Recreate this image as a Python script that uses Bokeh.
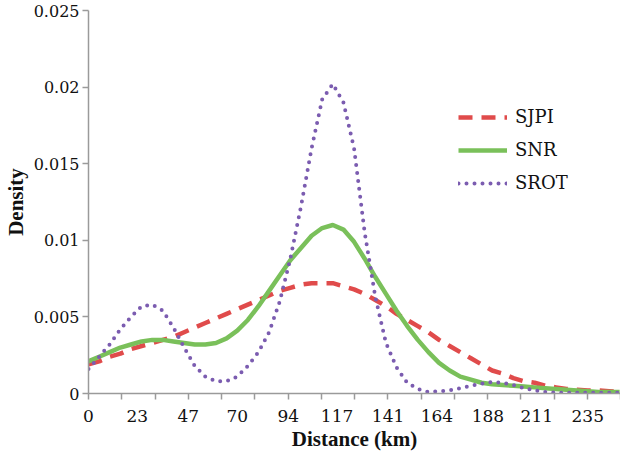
from bokeh.plotting import figure
from bokeh.models import FixedTicker, NumeralTickFormatter, Range1d
from bokeh.embed import file_html
from bokeh.resources import INLINE

# distance (km) sample points
distance_km = [0, 5, 10, 15, 20, 25, 30, 35, 40, 45, 50, 55, 60, 65, 70, 75, 80, 85, 90, 95,
               100, 105, 110, 115, 120, 125, 130, 135, 140, 145, 150, 155, 160, 165, 170, 175,
               180, 185, 190, 195, 200, 205, 210, 215, 220, 225, 230, 235, 240, 245, 250]

sjpi = [0.0019, 0.0021, 0.0024, 0.0026, 0.0029, 0.0031, 0.0033, 0.0035, 0.0037, 0.0040,
        0.0043, 0.0046, 0.0049, 0.0052, 0.0055, 0.0058, 0.0061, 0.0064, 0.0067, 0.0069,
        0.0071, 0.0072, 0.0072, 0.0072, 0.0070, 0.0068, 0.0065, 0.0061, 0.0057, 0.0052,
        0.0048, 0.0044, 0.0040, 0.0035, 0.0031, 0.0027, 0.0023, 0.0019, 0.0015, 0.0013,
        0.0010, 0.0008, 0.0007, 0.0005, 0.0004, 0.0003, 0.00025, 0.0002, 0.0002, 0.00015,
        0.0001]

snr = [0.0021, 0.0024, 0.0027, 0.0030, 0.0032, 0.0034, 0.0035, 0.0035, 0.0034, 0.0033,
       0.0032, 0.0032, 0.0033, 0.0036, 0.0041, 0.0048, 0.0057, 0.0067, 0.0077, 0.0087,
       0.0095, 0.0103, 0.0108, 0.0110, 0.0107, 0.0099, 0.0088, 0.0076, 0.0065, 0.0054,
       0.0044, 0.0035, 0.0027, 0.0020, 0.0015, 0.0011, 0.0009, 0.0007, 0.0006, 0.00055,
       0.0005, 0.00045, 0.0004, 0.00035, 0.0003, 0.00025, 0.0002, 0.00015, 0.0001, 0.0001,
       0.0001]

srot = [0.0016, 0.0024, 0.0032, 0.0042, 0.0050, 0.0057, 0.0058, 0.0054, 0.0043, 0.0030,
        0.0018, 0.0011, 0.0008, 0.0008, 0.0011, 0.0018, 0.0027, 0.0040, 0.0060, 0.0088,
        0.0122, 0.0160, 0.0192, 0.0202, 0.0190, 0.0160, 0.0105, 0.0063, 0.0033, 0.0017,
        0.0007, 0.0003, 0.0001, 0.00015, 0.0002, 0.00035, 0.0005, 0.00065, 0.00075, 0.0007,
        0.00055, 0.00035, 0.0002, 0.0001, 0.00005, 0.00005, 0.00005, 0.00005, 0.00005, 0.00005,
        0.00005]

x_tick_labels = [0, 23, 47, 70, 94, 117, 141, 164, 188, 211, 235]
x_tick_marks = [0, 15.65, 31.3, 46.95, 62.6, 78.25, 93.9, 109.55, 125.2, 140.85, 156.5,
                172.15, 187.8, 203.45, 219.1, 234.75, 250.4]
y_ticks = [0, 0.005, 0.01, 0.015, 0.02, 0.025]

FONT = "DejaVu Serif"
BOLD_FONT = "Liberation Serif"
AXIS_GREY = "#9a9a9a"

p = figure(width=620, height=453, output_backend="svg", toolbar_location=None,
           x_range=Range1d(0, 250.4), y_range=Range1d(0, 0.025),
           min_border_left=83, min_border_right=0, min_border_top=10, min_border_bottom=56)
p.outline_line_color = None
p.xgrid.visible = False
p.ygrid.visible = False
p.background_fill_color = "white"

p.line(distance_km, sjpi, line_color="#E04B4B", line_width=4.5, line_dash="14 9",
       legend_label="SJPI")
p.line(distance_km, snr, line_color="#7AC05A", line_width=4.5, legend_label="SNR")
p.line(distance_km, srot, line_color="#7B5CB0", line_width=4, line_dash="0 8",
       line_cap="round", legend_label="SROT")

# x axis
xa = p.xaxis[0]
xa.ticker = FixedTicker(ticks=x_tick_labels, minor_ticks=x_tick_marks)
xa.axis_line_color = AXIS_GREY
xa.axis_line_width = 1.5
xa.major_tick_out = 0
xa.major_tick_in = 0
xa.minor_tick_out = 6
xa.minor_tick_in = 0
xa.minor_tick_line_color = AXIS_GREY
xa.minor_tick_line_width = 1.5
xa.major_label_standoff = 10
xa.major_label_text_font = FONT
xa.major_label_text_font_size = "17px"
xa.major_label_text_color = "#111111"
xa.axis_label = "Distance (km)"
xa.axis_label_text_font = BOLD_FONT
xa.axis_label_text_font_size = "21px"
xa.axis_label_text_font_style = "bold"
xa.axis_label_text_color = "#111111"
xa.axis_label_standoff = 2

# y axis
ya = p.yaxis[0]
ya.ticker = FixedTicker(ticks=y_ticks, minor_ticks=[])
ya.formatter = NumeralTickFormatter(format="0.[000]")
ya.axis_line_color = AXIS_GREY
ya.axis_line_width = 1.5
ya.major_tick_out = 6
ya.major_tick_in = 0
ya.major_tick_line_color = AXIS_GREY
ya.major_tick_line_width = 1.5
ya.minor_tick_out = 0
ya.minor_tick_in = 0
ya.major_label_standoff = 3
ya.major_label_text_font = FONT
ya.major_label_text_font_size = "16px"
ya.major_label_text_color = "#111111"
ya.axis_label = "Density"
ya.axis_label_text_font = BOLD_FONT
ya.axis_label_text_font_size = "21px"
ya.axis_label_text_font_style = "bold"
ya.axis_label_text_color = "#111111"
ya.axis_label_standoff = 3

# legend
lg = p.legend[0]
lg.location = (370, 200)
lg.border_line_alpha = 0
lg.background_fill_alpha = 0
lg.padding = 0
lg.margin = 0
lg.spacing = 12
lg.glyph_width = 49
lg.glyph_height = 20
lg.label_height = 20
lg.label_standoff = 8
lg.label_text_font = FONT
lg.label_text_font_size = "18px"
lg.label_text_color = "#111111"

open("out.html", "w").write(file_html(p, INLINE))
